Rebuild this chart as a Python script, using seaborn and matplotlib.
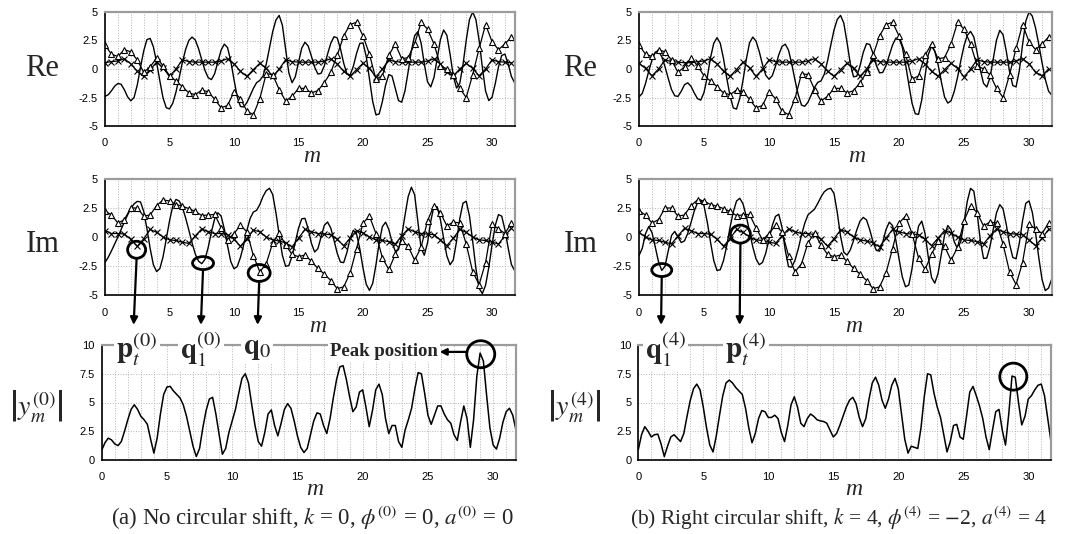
import numpy as np
import matplotlib
matplotlib.use("Agg")
import matplotlib.pyplot as plt
import seaborn as sns
from matplotlib.patches import Ellipse, ConnectionPatch

# sample positions along m
m_line = np.arange(128) * 0.25   # solid curves and |y_m|
m_mark = np.arange(64) * 0.5     # marker curves

# ---- (a) k = 0 ----
re_a_line = [
    -2.40, -2.26, -1.91, -1.51, -1.27, -1.34, -1.82, -2.44, -2.79, -2.51, -1.41, 0.14, 1.58, 2.58, 2.68, 1.95,
    0.58, -1.03, -2.54, -3.40, -3.50, -3.01, -2.03, -0.76, 0.58, 1.72, 2.51, 2.80, 2.54, 1.79, 0.81, -0.13,
    -0.76, -0.93, -0.41, 0.63, 1.66, 2.18, 1.88, 0.69, -0.94, -2.45, -3.29, -3.33, -2.94, -2.34, -1.70, -1.20,
    -1.00, -0.62, 0.43, 1.85, 3.28, 4.30, 4.70, 3.84, 1.75, -0.34, -1.20, -0.68, 0.58, 1.83, 2.35, 2.01,
    1.12, 0.16, -0.44, -0.38, 0.28, 1.30, 2.25, 2.83, 2.73, 1.78, 0.52, -0.43, -0.53, 0.24, 1.37, 2.24,
    2.29, 1.09, -0.88, -2.84, -4.02, -3.95, -2.86, -1.41, -0.49, -0.62, -1.70, -2.77, -2.91, -1.93, -0.23, 1.60,
    2.92, 3.27, 2.29, 0.46, -1.13, -1.57, -0.74, 0.93, 2.59, 3.42, 2.96, 1.29, -0.62, -1.67, -1.26, 0.38,
    2.52, 4.33, 5.00, 4.34, 2.50, 0.16, -1.94, -2.77, -2.48, -1.29, 0.18, 1.19, 1.31, 0.46, -0.65, -1.20,
]
im_a_line = [
    -2.20, -1.75, -1.20, -0.60, 0.00, 0.65, 1.30, 1.90, 2.45, 2.85, 3.07, 3.03, 2.21, 0.72, -0.99, -2.39,
    -2.98, -2.73, -1.71, -0.19, 1.38, 2.66, 3.24, 3.11, 2.56, 1.64, 0.59, -0.52, -1.47, -2.08, -2.30, -1.93,
    -0.89, 0.43, 1.57, 2.09, 1.81, 0.69, -0.76, -2.12, -2.74, -2.55, -1.76, -0.67, 0.57, 1.60, 2.15, 2.30,
    2.80, 3.50, 4.00, 4.20, 3.66, 2.09, 0.19, -1.58, -2.53, -2.46, -1.65, -0.45, 0.75, 1.57, 1.61, 0.71,
    -0.55, -1.29, -1.01, 0.00, 1.01, 1.29, 0.77, -0.28, -1.40, -2.16, -2.21, -1.34, -0.13, 0.58, 0.26, -1.01,
    -2.68, -4.08, -4.60, -4.00, -2.42, -0.53, 0.89, 1.28, 0.65, -0.44, -1.22, -1.09, 0.10, 1.84, 3.48, 4.29,
    3.65, 1.35, -0.95, -1.57, -0.50, 1.35, 2.67, 2.60, 1.50, -0.11, -1.64, -2.39, -1.97, -0.38, 1.58, 2.92,
    3.08, 1.82, -0.36, -2.71, -4.41, -4.88, -4.16, -2.62, -0.69, 1.00, 1.93, 1.80, 0.63, -0.94, -2.36, -2.90,
]
mag_a = [
    0.85, 1.50, 1.90, 1.75, 1.40, 1.25, 1.60, 2.50, 3.50, 4.40, 4.80, 4.40, 3.80, 3.50, 3.10, 1.80,
    0.60, 1.90, 4.00, 5.70, 6.35, 6.40, 6.00, 5.70, 5.40, 4.80, 3.80, 2.50, 1.20, 0.30, 1.00, 2.80,
    4.30, 5.30, 5.45, 4.00, 2.20, 0.50, 1.00, 2.40, 3.40, 4.40, 5.80, 7.10, 7.50, 6.70, 4.80, 3.00,
    1.60, 1.20, 2.40, 4.00, 4.35, 3.00, 2.10, 3.20, 4.40, 4.90, 4.50, 3.40, 2.10, 1.10, 0.65, 1.00,
    2.20, 3.40, 4.10, 4.00, 3.00, 2.30, 3.60, 5.40, 7.00, 8.10, 8.20, 7.00, 5.50, 4.20, 4.60, 5.90,
    6.10, 4.60, 2.90, 4.30, 6.10, 6.60, 5.70, 3.60, 2.30, 3.00, 3.00, 1.60, 1.10, 2.60, 3.50, 4.50,
    6.20, 7.60, 7.50, 5.80, 3.90, 3.10, 3.90, 4.70, 4.70, 4.00, 3.50, 3.20, 2.20, 1.70, 3.30, 4.70,
    3.60, 1.10, 3.50, 7.30, 9.30, 8.60, 5.60, 2.80, 1.30, 0.95, 1.90, 3.30, 4.20, 4.50, 3.90, 2.60,
]

# ---- (b) k = 4 ----
re_b_line = [
    -2.45, -2.14, -1.28, -0.18, 0.79, 1.48, 1.56, 1.09, 0.20, -0.83, -1.80, -2.35, -2.40, -1.95, -1.38, -1.21,
    -1.52, -2.10, -2.60, -2.73, -2.06, -0.72, 0.99, 2.26, 2.75, 2.26, 0.91, -0.81, -2.33, -3.41, -3.52, -2.58,
    -0.98, 0.82, 2.29, 2.80, 2.45, 1.52, 0.38, -0.55, -0.90, -0.59, 0.25, 1.24, 1.98, 2.18, 1.65, 0.44,
    -0.99, -2.26, -3.17, -3.27, -2.90, -2.27, -1.61, -1.17, -1.04, -0.46, 0.70, 2.09, 3.42, 4.35, 4.70, 4.04,
    2.34, 0.47, -0.69, -0.63, 0.27, 1.46, 2.23, 2.15, 1.37, 0.33, -0.34, -0.30, 0.30, 1.20, 2.10, 2.70,
    2.72, 1.92, 0.42, -1.34, -3.00, -3.93, -3.98, -2.70, -0.62, 1.27, 2.00, 1.57, 0.40, -1.10, -2.45, -2.99,
    -2.79, -1.96, -0.73, 0.72, 2.04, 2.95, 3.30, 2.81, 1.49, -0.08, -1.26, -1.58, -0.75, 0.90, 2.55, 3.39,
    3.01, 1.56, -0.22, -1.45, -1.57, -0.16, 2.12, 4.20, 5.00, 4.64, 3.61, 2.15, 0.55, -0.91, -1.94, -2.30,
]
im_b_line = [
    -1.60, -0.98, 0.28, 0.90, 0.38, -0.85, -2.14, -2.88, -2.53, -1.20, 0.13, 0.48, 0.00, -0.48, -0.33, 0.31,
    1.24, 2.24, 2.94, 3.20, 2.71, 1.29, -0.43, -2.03, -2.89, -2.82, -2.03, -0.75, 0.83, 2.15, 3.10, 3.34,
    2.86, 1.80, 0.48, -0.85, -1.88, -2.39, -2.19, -1.39, -0.20, 0.99, 1.78, 1.96, 0.83, -1.15, -2.56, -2.60,
    -2.00, -1.02, 0.18, 1.19, 1.91, 2.15, 2.40, 2.90, 3.45, 3.90, 4.12, 4.20, 3.75, 2.11, 0.08, -1.31,
    -1.56, -1.12, -0.31, 0.61, 1.37, 1.69, 1.47, 0.62, -0.43, -1.15, -1.22, -0.44, 0.65, 1.28, 0.98, -0.24,
    -1.89, -3.43, -4.29, -4.14, -2.72, -0.69, 0.94, 1.37, 0.29, -1.73, -3.49, -3.98, -3.15, -1.50, 0.15, 0.99,
    0.62, -0.42, -1.00, -0.36, 1.28, 3.08, 4.19, 3.96, 2.13, -0.30, -1.85, -1.82, -0.80, 0.69, 2.10, 2.79,
    2.43, 1.07, -0.61, -1.76, -1.88, -0.54, 1.41, 2.91, 3.11, 2.13, 0.36, -1.78, -3.67, -4.62, -4.40, -3.60,
]
mag_b = [
    0.90, 2.20, 2.90, 2.50, 2.00, 2.20, 2.25, 1.40, 0.30, 1.20, 2.00, 2.20, 1.90, 1.60, 2.30, 3.80,
    5.20, 6.20, 6.60, 6.10, 4.60, 2.80, 1.30, 0.70, 2.10, 3.90, 5.60, 6.70, 6.95, 6.70, 6.30, 6.00,
    5.70, 4.50, 2.80, 1.50, 2.30, 3.60, 4.30, 4.20, 3.70, 3.70, 3.90, 3.60, 2.40, 1.60, 3.00, 4.80,
    5.50, 4.60, 3.20, 2.90, 3.60, 4.00, 3.80, 3.50, 3.40, 3.35, 3.20, 2.60, 2.00, 2.30, 3.00, 3.80,
    4.60, 5.20, 5.45, 4.90, 3.70, 2.90, 3.60, 5.30, 6.70, 7.20, 6.50, 5.20, 4.50, 5.30, 6.50, 7.10,
    6.20, 4.00, 1.80, 0.60, 1.20, 1.10, 1.00, 2.80, 5.50, 7.50, 7.40, 5.80, 4.60, 3.70, 2.20, 0.70,
    1.60, 3.00, 3.10, 2.00, 1.80, 3.80, 5.90, 6.40, 5.60, 4.70, 3.60, 2.00, 0.90, 2.60, 4.20, 4.40,
    2.60, 1.30, 4.00, 7.30, 7.20, 5.00, 3.05, 3.80, 5.30, 5.60, 6.10, 6.50, 6.60, 5.60, 3.60, 1.60,
]

# reference curves (triangles) - same in (a) and (b)
re_tri = [
    2.10, 1.30, 1.10, 1.70, 1.50, 0.80, -0.30, 0.20, 0.95, 0.30, -0.60, -1.05, -1.55, -2.10, -2.25, -1.85,
    -2.00, -2.65, -3.40, -3.20, -2.00, -2.60, -3.70, -4.00, -2.60, -0.40, -0.50, -1.80, -2.80, -2.40, -1.70, -1.70,
    -2.10, -1.90, -1.20, -0.30, 1.20, 2.90, 3.90, 4.10, 2.90, 1.30, -0.90, -0.60, 1.20, 2.20, 0.90, 1.00,
    2.20, 4.10, 3.50, 2.20, 0.30, 0.00, -0.50, -1.70, -2.50, -0.50, 1.80, 3.90, 2.40, 1.70, 2.20, 2.80,
]
im_tri = [
    2.25, 1.90, 1.20, 1.50, 2.50, 2.50, 1.80, 1.90, 2.70, 3.20, 3.10, 2.80, 2.65, 2.45, 2.20, 1.85,
    1.90, 1.95, 0.80, -0.25, 0.30, 1.00, 0.45, -1.60, -3.00, -2.30, -0.50, 0.35, -0.70, -1.50, -1.70, -1.55,
    -2.10, -2.70, -3.20, -3.75, -4.45, -4.30, -3.10, -1.00, 1.20, 1.80, 0.30, -1.80, -2.80, -1.50, -0.35, -0.80,
    -2.00, -0.90, 1.40, 2.70, 2.10, 0.95, 1.30, 1.20, -0.60, -3.00, -4.10, -2.20, 1.10, 0.70, 0.30, 1.20,
]

# shifted reference curves (crosses)
re_a_x = [
    0.55, 0.65, 0.70, 0.90, 0.45, -0.20, -0.65, -0.05, 0.60, 0.10, -0.65, 0.00, 0.80, 0.65, 0.60, 0.60,
    0.60, 0.60, 0.70, 0.90, 0.45, -0.20, -0.65, -0.05, 0.50, 0.05, -0.65, 0.00, 0.80, 0.65, 0.60, 0.60,
    0.60, 0.60, 0.70, 0.90, 0.45, -0.20, -0.65, -0.05, 0.50, 0.05, -0.70, 0.00, 0.80, 0.65, 0.60, 0.60,
    0.60, 0.60, 0.70, 0.90, 0.45, -0.30, -0.60, 0.00, 0.50, 0.05, -0.60, 0.00, 0.80, 0.65, 0.60, 0.55,
]
re_b_x = [
    0.50, 0.05, -0.60, 0.00, 0.80, 0.65, 0.60, 0.55, 0.55, 0.65, 0.70, 0.90, 0.45, -0.20, -0.65, -0.05,
    0.60, 0.10, -0.65, 0.00, 0.80, 0.65, 0.60, 0.60, 0.60, 0.60, 0.70, 0.90, 0.45, -0.20, -0.65, -0.05,
    0.50, 0.05, -0.65, 0.00, 0.80, 0.65, 0.60, 0.60, 0.60, 0.60, 0.70, 0.90, 0.45, -0.20, -0.65, -0.05,
    0.50, 0.05, -0.70, 0.00, 0.80, 0.65, 0.60, 0.60, 0.60, 0.60, 0.70, 0.90, 0.45, -0.30, -0.60, 0.00,
]
im_a_x = [
    0.55, 0.30, 0.30, 0.25, -0.20, -0.80, -0.15, 0.65, 0.40, 0.00, -0.25, -0.30, -0.45, -0.55, 0.10, 0.70,
    0.45, 0.30, 0.30, 0.20, -0.20, -0.80, -0.15, 0.60, 0.45, 0.00, -0.25, -0.35, -0.50, -0.85, -0.10, 0.65,
    0.45, 0.30, 0.25, 0.20, -0.20, -0.75, -0.10, 0.55, 0.35, 0.00, -0.25, -0.30, -0.40, -0.60, 0.10, 0.70,
    0.45, 0.30, 0.25, 0.20, -0.25, -0.75, -0.10, 0.65, 0.40, 0.00, -0.25, -0.30, -0.45, -0.60, 0.10, 0.75,
]
im_b_x = [
    0.40, 0.00, -0.25, -0.30, -0.45, -0.60, 0.10, 0.75, 0.55, 0.30, 0.30, 0.25, -0.20, -0.80, -0.15, 0.65,
    0.40, 0.00, -0.25, -0.30, -0.45, -0.55, 0.10, 0.70, 0.45, 0.30, 0.30, 0.20, -0.20, -0.80, -0.15, 0.60,
    0.45, 0.00, -0.25, -0.35, -0.50, -0.85, -0.10, 0.65, 0.45, 0.30, 0.25, 0.20, -0.20, -0.75, -0.10, 0.55,
    0.35, 0.00, -0.25, -0.30, -0.40, -0.60, 0.10, 0.70, 0.45, 0.30, 0.25, 0.20, -0.25, -0.75, -0.10, 0.65,
]

ri_ticks = [-5, -2.5, 0, 2.5, 5]
ri_labels = ["-5", "-2.5", "0", "2.5", "5"]
mag_ticks = [0, 2.5, 5, 7.5, 10]
mag_labels = ["0", "2.5", "5", "7.5", "10"]

sns.set_theme(style="white")
plt.rcParams["font.family"] = ["Liberation Serif", "DejaVu Serif"]
plt.rcParams["mathtext.fontset"] = "stix"

W, H = 1065, 534
fig = plt.figure(figsize=(W / 100, H / 100), dpi=100)


def px_box(left, top, right, bottom):
    return [left / W, 1 - bottom / H, (right - left) / W, (bottom - top) / H]


def fig_text(x, y, s, **kw):
    fig.text(x / W, 1 - y / H, s, **kw)


def style(ax, ylim, ticks, labels):
    ax.set_xlim(0, 31.75)
    ax.set_ylim(*ylim)
    ax.set_xticks(range(0, 31, 5))
    ax.set_xticks(range(0, 32), minor=True)
    ax.set_yticks(ticks)
    ax.set_yticklabels(labels)
    ax.set_xlabel("")
    ax.set_ylabel("")
    ax.grid(True, which="both", axis="x", color="#b4b4b4", linestyle=":", linewidth=0.7)
    ax.grid(True, which="major", axis="y", color="#b4b4b4", linestyle=":", linewidth=0.7)
    ax.set_axisbelow(True)
    ax.tick_params(which="major", direction="in", length=3, width=0.8, colors="black",
                   labelsize=8, labelfontfamily="Liberation Sans")
    ax.tick_params(which="minor", length=0)
    ax.tick_params(axis="x", pad=9)
    ax.tick_params(axis="y", pad=5)
    for s in ("top", "right"):
        ax.spines[s].set_color("#9c9c9c")
        ax.spines[s].set_linewidth(1.6)
    for s in ("left", "bottom"):
        ax.spines[s].set_color("black")
        ax.spines[s].set_linewidth(1.2)


def draw_ri(ax, line, tri, cross):
    sns.lineplot(x=m_line, y=line, ax=ax, color="black", linewidth=1.0)
    sns.lineplot(x=m_mark, y=cross, ax=ax, color="black", linewidth=0.9,
                 marker="x", markersize=5, markeredgewidth=0.8, markeredgecolor="black")
    sns.lineplot(x=m_mark, y=tri, ax=ax, color="black", linewidth=0.9,
                 marker="^", markersize=5, markerfacecolor="white",
                 markeredgecolor="black", markeredgewidth=0.8)
    style(ax, (-5, 5), ri_ticks, ri_labels)


ax_re_a = fig.add_axes(px_box(105, 12, 514.6, 126))
ax_im_a = fig.add_axes(px_box(105, 179, 514.6, 295))
ax_mag_a = fig.add_axes(px_box(101.7, 345, 516, 460))
ax_re_b = fig.add_axes(px_box(639, 12, 1051.8, 126))
ax_im_b = fig.add_axes(px_box(639, 179, 1051.8, 295))
ax_mag_b = fig.add_axes(px_box(638.3, 345, 1051, 460))

draw_ri(ax_re_a, re_a_line, re_tri, re_a_x)
draw_ri(ax_im_a, im_a_line, im_tri, im_a_x)
draw_ri(ax_re_b, re_b_line, re_tri, re_b_x)
draw_ri(ax_im_b, im_b_line, im_tri, im_b_x)
for ax, mag in ((ax_mag_a, mag_a), (ax_mag_b, mag_b)):
    sns.lineplot(x=m_line, y=mag, ax=ax, color="black", linewidth=1.1)
    style(ax, (0, 10), mag_ticks, mag_labels)

# row labels
for x0 in (42, 580):
    fig_text(x0, 76, "Re", ha="center", va="baseline", fontsize=22)
    fig_text(x0 + 1, 252, "Im", ha="center", va="baseline", fontsize=22)
fig_text(36, 406, r"$\left|y_m^{(0)}\right|$", ha="center", va="center", fontsize=20)
fig_text(574, 406, r"$\left|y_m^{(4)}\right|$", ha="center", va="center", fontsize=20)

# axis names
for x0, y0 in ((312, 162), (318, 332), (315, 495), (857, 162), (854, 332), (854, 495)):
    fig_text(x0, y0, "m", ha="center", va="baseline", fontsize=17, style="italic")

# captions
fig_text(312, 525, r"(a) No circular shift, $k$ = 0, $\phi^{(0)}$ = 0, $a^{(0)}$ = 0",
         ha="center", va="baseline", fontsize=16.5)
fig_text(839, 525, r"(b) Right circular shift, $k$ = 4, $\phi^{(4)}$ = $-$2, $a^{(4)}$ = 4",
         ha="center", va="baseline", fontsize=15.5)

# circled samples, arrows and vector names
white = dict(facecolor="white", edgecolor="none", pad=1.5)


def mark(ax_top, ax_bot, cx, cy, w_px, h_px, ux, uy, arrow_x, label, label_x):
    ax_top.add_patch(Ellipse((cx, cy), w_px / ux, h_px / uy, facecolor="none",
                             edgecolor="black", linewidth=2.0, zorder=5))
    con = ConnectionPatch(xyA=(arrow_x, cy - h_px / 2 / uy), coordsA=ax_top.transData,
                          xyB=(arrow_x, 11.75), coordsB=ax_bot.transData,
                          arrowstyle="-|>", mutation_scale=11, linewidth=1.6, color="black")
    fig.add_artist(con)
    ax_bot.text(label_x, 9.65, label, ha="center", va="center", fontsize=21,
                bbox=white, zorder=6, clip_on=False)


mark(ax_im_a, ax_mag_a, 2.45, -1.1, 18, 17, 12.9, 11.6, 2.45, r"$\mathbf{p}_t^{(0)}$", 2.7)
mark(ax_im_a, ax_mag_a, 7.6, -2.25, 21, 13, 12.9, 11.6, 7.6, r"$\mathbf{q}_1^{(0)}$", 7.6)
mark(ax_im_a, ax_mag_a, 11.95, -3.1, 22, 17, 12.9, 11.6, 11.95, r"$\mathbf{q}_0$", 11.9)
mark(ax_im_b, ax_mag_b, 1.75, -2.85, 20, 13, 13.0, 11.6, 1.75, r"$\mathbf{q}_1^{(4)}$", 2.1)
mark(ax_im_b, ax_mag_b, 7.8, 0.25, 20, 18, 13.0, 11.6, 7.8, r"$\mathbf{p}_t^{(4)}$", 8.3)

# peak markers
ax_mag_a.add_patch(Ellipse((29.05, 9.2), 28 / 13.05, 27 / 11.5, facecolor="none",
                           edgecolor="black", linewidth=2.0, clip_on=False, zorder=5))
ax_mag_a.annotate("", xy=(25.9, 9.4), xytext=(27.95, 9.4),
                  arrowprops=dict(arrowstyle="-|>", color="black", lw=1.6, mutation_scale=10,
                                  shrinkA=0, shrinkB=0), annotation_clip=False)
ax_mag_a.text(25.8, 9.4, "Peak position", ha="right", va="center", fontsize=13.5,
              fontweight="bold", bbox=white, zorder=6, clip_on=False)
ax_mag_b.add_patch(Ellipse((28.85, 7.25), 27 / 13.0, 27 / 11.5, facecolor="none",
                           edgecolor="black", linewidth=2.0, clip_on=False, zorder=5))

fig.savefig("out.png", dpi=100)
